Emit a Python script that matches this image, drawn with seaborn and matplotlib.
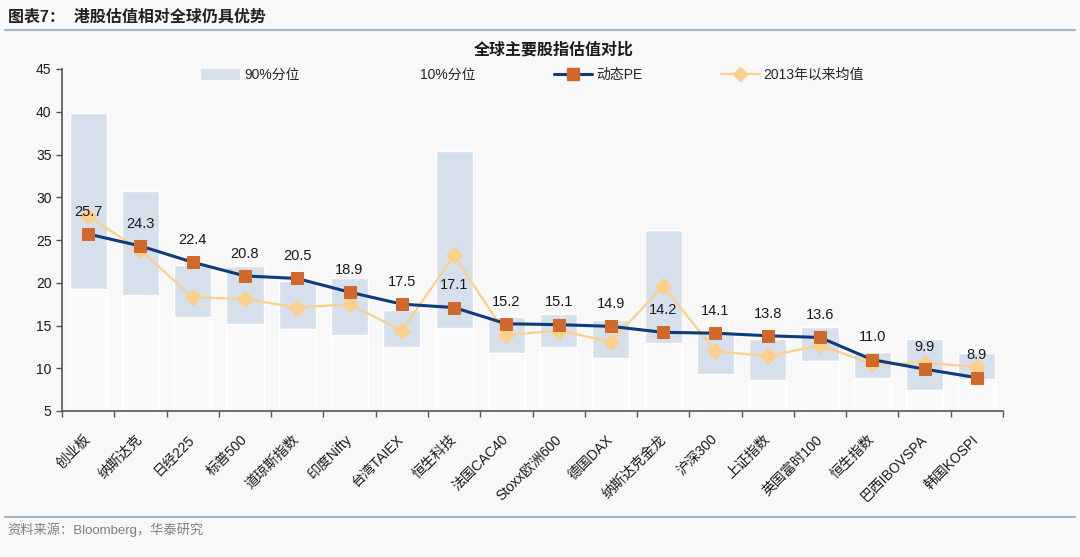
import numpy as np
import pandas as pd
import seaborn as sns
import matplotlib.pyplot as plt
from matplotlib.lines import Line2D
from matplotlib.patches import Patch
import matplotlib.transforms as mtransforms

# Data
indices = ["创业板", "纳斯达克", "日经225", "标普500", "道琼斯指数", "印度Nifty", "台湾TAIEX",
           "恒生科技", "法国CAC40", "Stoxx欧洲600", "德国DAX", "纳斯达克金龙", "沪深300",
           "上证指数", "英国富时100", "恒生指数", "巴西IBOVSPA", "韩国KOSPI"]
pe_now = [25.7, 24.3, 22.4, 20.8, 20.5, 18.9, 17.5, 17.1, 15.2, 15.1, 14.9, 14.2,
          14.1, 13.8, 13.6, 11.0, 9.9, 8.9]
avg_since_2013 = [27.8, 23.8, 18.3, 18.1, 17.1, 17.5, 14.4, 23.2, 13.9, 14.4, 13.1, 19.6,
                  12.0, 11.4, 12.7, 10.5, 10.6, 10.2]
pct90 = [39.8, 30.7, 22.1, 22.0, 20.2, 20.5, 16.8, 35.4, 16.0, 16.4, 15.6, 26.2,
         14.4, 13.4, 14.8, 11.9, 13.4, 11.8]
pct10 = [19.3, 18.6, 16.0, 15.2, 14.6, 13.9, 12.5, 14.7, 11.8, 12.5, 11.2, 13.0,
         9.3, 8.6, 10.8, 8.9, 7.4, 8.7]

df = pd.DataFrame({"pos": np.arange(len(indices)), "index": indices, "pe": pe_now,
                   "avg": avg_since_2013, "p90": pct90, "p10": pct10})

sns.set_theme(style="white")
plt.rcParams['font.family'] = ['Liberation Sans', 'Noto Sans CJK SC']

bg = "#f8f8f8"
band_color = "#d6dfec"
navy = "#0c3c7c"
orange = "#d0692a"
gold = "#fcd08a"

fig = plt.figure(figsize=(10.8, 5.57), dpi=100, facecolor=bg)
ax = fig.add_axes([62 / 1080, 1 - 411 / 557, (1003 - 62) / 1080, (411 - 69) / 557])
ax.set_facecolor(bg)

# percentile band: 90% bar with the 10% part painted over
sns.barplot(data=df, x="pos", y="p90", native_scale=True, width=0.71,
            color=band_color, saturation=1, ax=ax)
sns.barplot(data=df, x="pos", y="p10", native_scale=True, width=0.71,
            color="#fafafa", saturation=1, ax=ax)

sns.lineplot(data=df, x="pos", y="avg", sort=False, color=gold, linewidth=1.6,
             marker="D", markersize=8, markerfacecolor=gold, markeredgecolor=gold, ax=ax)
sns.lineplot(data=df, x="pos", y="pe", sort=False, color=navy, linewidth=2.2,
             marker="s", markersize=9, markerfacecolor=orange, markeredgecolor=orange, ax=ax)

for i, v in enumerate(pe_now):
    ax.annotate(f"{v:.1f}", (i, v), xytext=(0, 16), textcoords="offset points",
                ha="center", va="center", fontsize=10.5, color="#1a1a1a")

ax.set_xlim(-0.5, len(indices) - 0.5)
ax.set_ylim(5, 45)
ax.set_yticks(range(5, 50, 5))
ax.set_xticks(np.arange(len(indices) + 1) - 0.5)
ax.set_xticklabels([])
ax.set_xticks(np.arange(len(indices)), minor=True)
ax.set_xticklabels(indices, minor=True, rotation=45, ha="right", va="center",
                   rotation_mode="anchor", fontsize=10, color="#1a1a1a")
offset = mtransforms.ScaledTranslation(8 / 72, 0, fig.dpi_scale_trans)
for lab in ax.get_xticklabels(minor=True):
    lab.set_transform(lab.get_transform() + offset)
ax.tick_params(axis="x", which="major", direction="out", length=4, color="#555555",
               bottom=True, width=1)
ax.tick_params(axis="x", which="minor", length=0, pad=19)
ax.tick_params(axis="y", direction="out", length=4, color="#555555", left=True,
               labelsize=10, labelcolor="#1a1a1a", width=1)
ax.set_xlabel("")
ax.set_ylabel("")
for s in ["top", "right"]:
    ax.spines[s].set_visible(False)
for s in ["left", "bottom"]:
    ax.spines[s].set_color("#555555")
    ax.spines[s].set_linewidth(1.2)

handles = [
    Patch(facecolor=band_color, edgecolor="none"),
    Patch(facecolor="none", edgecolor="none"),
    Line2D([], [], color=navy, linewidth=2.2, marker="s", markersize=9,
           markerfacecolor=orange, markeredgecolor=orange),
    Line2D([], [], color=gold, linewidth=1.6, marker="D", markersize=7,
           markerfacecolor=gold, markeredgecolor=gold),
]
labels = ["90%分位", "10%分位", "动态PE", "2013年以来均值"]
ax.legend(handles, labels, loc="center", bbox_to_anchor=(0.5, 0.982), ncol=4,
          frameon=False, fontsize=10, handlelength=2.8, handleheight=0.9,
          handletextpad=0.3, columnspacing=5.6)

# header, chart title, footer
fig.text(8 / 1080, 1 - 17 / 557, "图表7：  港股估值相对全球仍具优势", fontsize=11.5,
         fontweight="bold", color="#222222", va="center", ha="left")
fig.add_artist(Line2D([5 / 1080, 1075 / 1080], [1 - 30 / 557] * 2, color="#a3b6ca",
                      linewidth=1.5))
fig.text(554 / 1080, 1 - 50 / 557, "全球主要股指估值对比", fontsize=11.5,
         fontweight="bold", color="#1a1a1a", va="center", ha="center")
fig.add_artist(Line2D([5 / 1080, 1075 / 1080], [1 - 517 / 557] * 2, color="#a3b6ca",
                      linewidth=1.5))
fig.text(7 / 1080, 1 - 530 / 557, "资料来源：Bloomberg，华泰研究", fontsize=9.5,
         color="#7f7f7f", va="center", ha="left")

fig.savefig("out.png", dpi=100, facecolor=bg)
